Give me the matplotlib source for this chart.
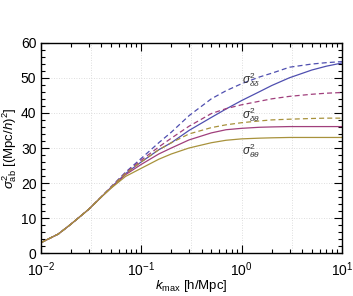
import numpy as np
import matplotlib
matplotlib.use('Agg')
import matplotlib.pyplot as plt
import matplotlib.ticker as mticker

plt.rcParams.update({
    'font.family': 'Liberation Sans',
    'mathtext.fontset': 'custom',
    'mathtext.rm': 'Liberation Sans',
    'mathtext.it': 'Liberation Sans:italic',
    'mathtext.bf': 'Liberation Sans:bold',
    'font.size': 8,
})

_BLUE = '#4f4fb0'
_MAGENTA = '#a03f7c'
_OLIVE = '#a8923c'

k_max = [0.01, 0.015, 0.02, 0.03, 0.04, 0.05, 0.07, 0.1, 0.15, 0.2, 0.3,
         0.5, 0.7, 1.0, 1.5, 2.0, 3.0, 5.0, 7.0, 10.0]

# nonlinear (dashed) and linear (solid) variances
dd_dashed = [3.0, 5.5, 8.3, 12.5, 16.0, 18.9, 23.1, 27.0, 31.5, 34.5, 39.2,
             44.0, 46.3, 48.3, 50.2, 51.3, 53.0, 53.9, 54.3, 54.6]
dd_solid = [3.0, 5.5, 8.3, 12.5, 16.0, 18.7, 22.7, 26.0, 29.5, 31.5, 35.0,
            38.7, 41.1, 43.5, 46.0, 47.8, 50.0, 52.2, 53.3, 54.2]
dt_dashed = [3.0, 5.5, 8.3, 12.5, 16.0, 18.8, 22.9, 26.5, 30.3, 32.8, 36.2,
             39.8, 41.2, 42.3, 43.3, 44.0, 44.7, 45.3, 45.6, 45.8]
dt_solid = [3.0, 5.5, 8.3, 12.5, 16.0, 18.6, 22.4, 25.3, 28.3, 30.0, 32.3,
            34.3, 35.2, 35.6, 35.9, 36.0, 36.1, 36.1, 36.1, 36.1]
tt_dashed = [3.0, 5.5, 8.3, 12.5, 16.0, 18.7, 22.7, 26.0, 29.5, 31.5, 34.0,
             35.8, 36.6, 37.2, 37.7, 38.0, 38.2, 38.4, 38.5, 38.5]
tt_solid = [3.0, 5.5, 8.3, 12.5, 16.0, 18.5, 21.9, 24.2, 26.8, 28.3, 30.0,
            31.5, 32.2, 32.6, 32.8, 32.9, 33.0, 33.0, 33.0, 33.0]

labels = [r'$\sigma^2_{\delta\delta}$', r'$\sigma^2_{\delta\theta}$',
          r'$\sigma^2_{\theta\theta}$']
label_k = [1.0, 1.0, 1.0]
label_y = [49.4, 39.4, 29.2]

fig = plt.figure(figsize=(3.53, 2.96), dpi=100)
ax = fig.add_axes([0.115, 0.144, 0.854, 0.712])

dash = (0, (4, 2.5))
ax.plot(k_max, dd_dashed, color=_BLUE, lw=0.9, ls=dash)
ax.plot(k_max, dd_solid, color=_BLUE, lw=0.9)
ax.plot(k_max, dt_dashed, color=_MAGENTA, lw=0.9, ls=dash)
ax.plot(k_max, dt_solid, color=_MAGENTA, lw=0.9)
ax.plot(k_max, tt_dashed, color=_OLIVE, lw=0.9, ls=dash)
ax.plot(k_max, tt_solid, color=_OLIVE, lw=0.9)

for lab, xk, yv in zip(labels, label_k, label_y):
    ax.text(xk, yv, lab, ha='left', va='center', fontsize=8.5, color='#333333')

ax.set_xscale('log')
ax.set_xlim(0.01, 10)
ax.set_ylim(0, 60)

# grid at half decades on x, every 10 on y
for g in 10 ** np.arange(-1.5, 1.0, 0.5):
    ax.axvline(g, color='#d4d4d4', ls=(0, (1, 2)), lw=0.6, zorder=0)
for g in range(10, 60, 10):
    ax.axhline(g, color='#d4d4d4', ls=(0, (1, 2)), lw=0.6, zorder=0)

ax.yaxis.set_major_locator(mticker.MultipleLocator(10))
ax.yaxis.set_minor_locator(mticker.MultipleLocator(2))
ax.xaxis.set_major_locator(mticker.LogLocator(base=10, numticks=10))
ax.xaxis.set_minor_locator(mticker.LogLocator(base=10, subs=np.arange(2, 10), numticks=10))
ax.xaxis.set_minor_formatter(mticker.NullFormatter())

ax.tick_params(which='both', direction='in', top=True, right=True,
               labelsize=10, width=0.8)
ax.tick_params(which='major', length=6)
ax.tick_params(which='minor', length=3)
ax.tick_params(axis='x', pad=5)
ax.tick_params(axis='y', pad=3)
for s in ax.spines.values():
    s.set_linewidth(1.0)

ax.set_xlabel(r'$k_{\rm max}$ [h/Mpc]', fontsize=9.5)
ax.set_ylabel(r'$\sigma^2_{\rm ab}$ [(Mpc/$h$)$^2$]', fontsize=9.5)
ax.xaxis.set_label_coords(0.5, -0.115)
ax.yaxis.set_label_coords(-0.072, 0.5)

fig.savefig('out.png', dpi=100)
